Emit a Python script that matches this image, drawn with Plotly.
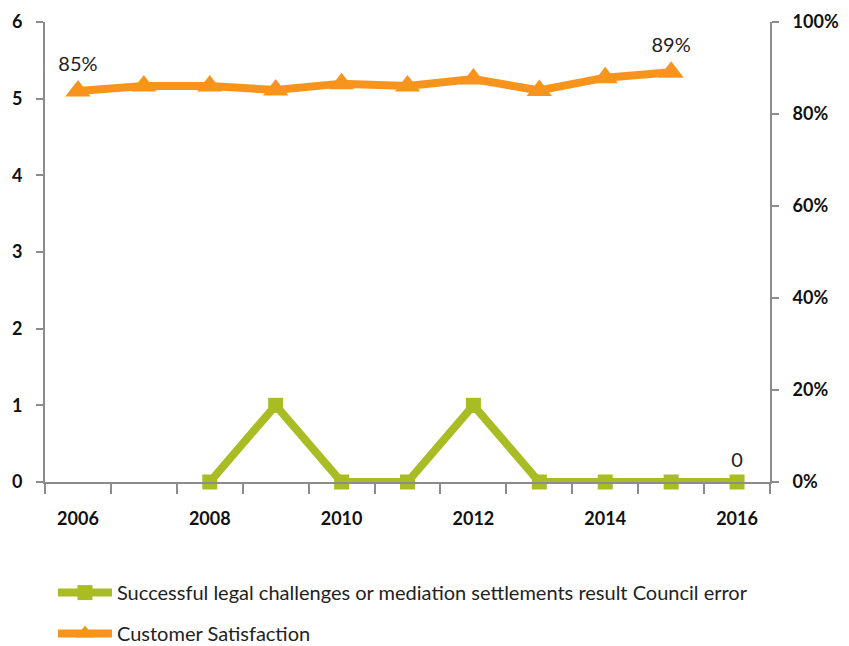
import plotly.graph_objects as go

years = [2006, 2007, 2008, 2009, 2010, 2011, 2012, 2013, 2014, 2015, 2016]
legal_challenges = [None, None, 0, 1, 0, 0, 1, 0, 0, 0, 0]
satisfaction = [0.85, 0.861, 0.861, 0.852, 0.866, 0.861, 0.876, 0.851, 0.879, 0.891, None]
legal_label_idx = [10]
sat_label_idx = [0, 9]
x_tick_labels = ["2006", "2008", "2010", "2012", "2014", "2016"]
x_tick_vals = [int(t) for t in x_tick_labels]

legal_text = [str(v) if (i in legal_label_idx and v is not None) else "" for i, v in enumerate(legal_challenges)]
sat_text = [f"{v*100:.0f}%" if (i in sat_label_idx and v is not None) else "" for i, v in enumerate(satisfaction)]

GREEN = "#a9bc23"
ORANGE = "#f7941d"
GRAY = "#8c8c8c"
FONT = "Lato"

fig = go.Figure()
fig.add_trace(go.Scatter(
    x=years, y=legal_challenges, name="Successful legal challenges or mediation settlements result Council error",
    mode="lines+markers+text", text=legal_text, textposition="top center",
    textfont=dict(family=FONT, size=20, color="#222"),
    line=dict(color=GREEN, width=8), marker=dict(symbol="square", size=15, color=GREEN),
    legendgroup="a", cliponaxis=False,
))
fig.add_trace(go.Scatter(
    x=years, y=satisfaction, name="Customer Satisfaction", yaxis="y2",
    mode="lines+markers+text", text=sat_text, textposition="top center",
    textfont=dict(family=FONT, size=20, color="#222"),
    line=dict(color=ORANGE, width=8), marker=dict(symbol="triangle-up", size=22, color=ORANGE),
    legendgroup="b", cliponaxis=False,
))

fig.update_layout(
    width=849, height=646,
    margin=dict(l=37, r=87, t=14, b=172, autoexpand=False),
    plot_bgcolor="white", paper_bgcolor="white",
    font=dict(family=FONT, size=17, color="#111"),
    showlegend=True,
    legend=dict(orientation="v", x=0.011, xanchor="left", y=-0.198, yanchor="top",
                font=dict(family=FONT, size=20, color="#222"), tracegroupgap=12,
                itemwidth=54),
    xaxis=dict(range=[2005.5, 2016.5], tickvals=x_tick_vals, ticktext=x_tick_labels,
               ticks="", showline=True, linecolor=GRAY, linewidth=2, showgrid=False, zeroline=False,
               ticklabelstandoff=19, tickfont=dict(family=FONT, size=18, color="#111", weight=700),
               minor=dict(tick0=2005.5, dtick=1, ticks="outside", ticklen=10, tickcolor=GRAY, tickwidth=2)),
    yaxis=dict(range=[0, 6], dtick=1, showline=True, linecolor=GRAY, linewidth=2, ticks="outside",
               ticklen=7, tickcolor=GRAY, tickwidth=2, showgrid=False, zeroline=False,
               ticklabelstandoff=10,
               tickfont=dict(family=FONT, size=18, color="#111", weight=700)),
    yaxis2=dict(range=[0, 1], dtick=0.2, tickformat=".0%", overlaying="y", side="right",
                showline=True, linecolor=GRAY, linewidth=2, ticks="outside", ticklen=7,
                tickcolor=GRAY, tickwidth=2, showgrid=False, zeroline=False, ticklabelstandoff=10,
                tickfont=dict(family=FONT, size=18, color="#111", weight=700)),
)

fig.write_html("out.html")
